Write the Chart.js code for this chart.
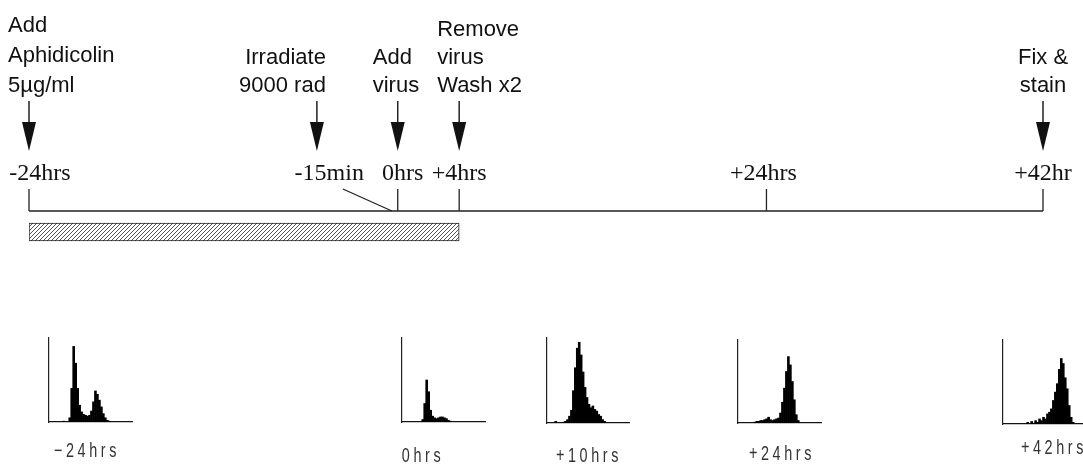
<!DOCTYPE html>
<html><head><meta charset="utf-8">
<script src="https://cdn.jsdelivr.net/npm/chart.js@4.4.1/dist/chart.umd.min.js"></script>
<style>
html,body{margin:0;padding:0;background:#fff;overflow:hidden;width:1083px;height:464px;}
#wrap{position:relative;width:1083px;height:464px;overflow:hidden;background:#fff;}
canvas{position:absolute;}
.hl{position:absolute;font-family:"Liberation Sans",Arial,sans-serif;font-size:20px;letter-spacing:5px;color:#333;white-space:nowrap;transform:translate(-50%,-50%) scaleX(0.72);}
</style></head><body><div id="wrap"><canvas id="main" width="1083" height="464" style="left:0;top:0"></canvas></div>
<script>
// ---------------- data ----------------
const timepoints = [-24, 0, 4, 24, 42];
const timeLabels = ['-24hrs', '0hrs', '+4hrs', '+24hrs', '+42hr'];
const irradiationTime = -0.25;
const irradiationLabel = '-15min';
const eventTimes = [-24, -0.25, 0, 4, 42];
const eventLabels = [
  ['Add', 'Aphidicolin', '5µg/ml'],
  ['Irradiate', '9000 rad'],
  ['Add', 'virus'],
  ['Remove', 'virus', 'Wash x2'],
  ['Fix &', 'stain']
];
const aphidicolinPeriod = [-24, 4];

const histChannels = [0,1,2,3,4,5,6,7,8,9,10,11,12,13,14,15,16,17,18,19,20,21,22,23,24,25,26,27,28,29,30,31,32,33,34,35,36,37,38,39,40,41];
const histLabels = ['\u221224hrs', '0hrs', '+10hrs', '+24hrs', '+42hrs'];
const hist_m24 = [0,0,0,0,0,0,0,1,0,0,5,40,90,70,40,20,12,9,8,7,8,13,24,37,33,26,18,10,5,2,1,0,0,0,0,0,0,0,0,0,0,0];
const hist_0   = [0,0,0,0,0,0,0,0,0,0,3,22,50,36,14,7,5,4,5,6,6,5,4,2,1,0,0,0,0,0,0,0,0,0,0,0,0,0,0,0,0,0];
const hist_10  = [0,0,0,0,2,0,0,0,1,2,4,8,15,38,65,88,95,80,60,42,30,22,18,20,16,14,10,8,4,2,0,0,0,0,0,0,0,0,0,0,0,0];
const hist_24  = [0,0,0,0,0,0,0,0,1,2,2,3,3,4,5,7,4,3,4,5,6,12,25,42,62,80,70,50,28,10,3,0,0,0,0,0,0,0,0,0,0,0];
const hist_42  = [0,0,0,0,0,0,0,0,0,0,0,0,2,0,3,1,4,2,6,4,8,6,12,14,18,28,38,48,65,78,72,55,42,22,8,2,0,0,0,0,0,0];

// ---------------- layout / style ----------------
const LINE_Y = 211, TICK_TOP = 189, TIME_BASE = 180;
const ARROW_TOP = 101, HEAD_TOP = 122, HEAD_TIP = 151, HEAD_HALF = 7;
const LAST_BASE = 92;
const timeLabelDx = [11, 5, 0, -3, 0];
const eventStyle = [
  {arrowDx: 0,   align: 'left',   textDx: -21, lh: 30},
  {arrowDx: -77, align: 'right',  textDx: 9,   lh: 28},
  {arrowDx: 0,   align: 'left',   textDx: -25, lh: 28},
  {arrowDx: 0,   align: 'left',   textDx: -22, lh: 28},
  {arrowDx: 0,   align: 'center', textDx: 0,   lh: 28}
];
const histBoxes = [
  {left: 49,   top: 338, right: 132,  bottom: 422, lx: 87,   ly: 450},
  {left: 402,  top: 338, right: 485,  bottom: 422, lx: 423,  ly: 455},
  {left: 547,  top: 338, right: 629,  bottom: 423, lx: 589,  ly: 455},
  {left: 738,  top: 340, right: 821,  bottom: 423, lx: 782,  ly: 453},
  {left: 1003, top: 340, right: 1086, bottom: 424, lx: 1054, ly: 447}
];

function hatchPattern() {
  const c = document.createElement('canvas');
  c.width = 4; c.height = 4;
  const g = c.getContext('2d');
  g.fillStyle = '#fff'; g.fillRect(0, 0, 4, 4);
  g.strokeStyle = '#555'; g.lineWidth = 1;
  g.beginPath();
  g.moveTo(0, 4); g.lineTo(4, 0);
  g.moveTo(-1, 1); g.lineTo(1, -1);
  g.moveTo(3, 5); g.lineTo(5, 3);
  g.stroke();
  return g.createPattern(c, 'repeat');
}

const timelinePlugin = {
  id: 'timeline',
  afterDatasetsDraw(chart) {
    const ctx = chart.ctx, xs = chart.scales.x;
    const px = v => xs.getPixelForValue(v);
    ctx.save();
    ctx.strokeStyle = '#222'; ctx.lineWidth = 1.3;
    ctx.beginPath();
    ctx.moveTo(px(timepoints[0]), LINE_Y);
    ctx.lineTo(px(timepoints[timepoints.length - 1]), LINE_Y);
    ctx.stroke();
    timepoints.forEach(t => {
      ctx.beginPath(); ctx.moveTo(px(t), TICK_TOP); ctx.lineTo(px(t), LINE_Y); ctx.stroke();
    });
    // leader line from -15min label to the time line
    const pi = px(irradiationTime);
    ctx.beginPath(); ctx.moveTo(pi - 51, TICK_TOP); ctx.lineTo(pi - 2, LINE_Y); ctx.stroke();

    ctx.fillStyle = '#111';
    ctx.font = '24px "Liberation Serif", "Times New Roman", serif';
    ctx.textBaseline = 'alphabetic';
    ctx.textAlign = 'center';
    timepoints.forEach((t, i) => ctx.fillText(timeLabels[i], px(t) + timeLabelDx[i], TIME_BASE));
    ctx.textAlign = 'right';
    ctx.fillText(irradiationLabel, pi - 30, TIME_BASE);

    ctx.font = '22px "Liberation Sans", Arial, sans-serif';
    eventTimes.forEach((t, i) => {
      const st = eventStyle[i];
      const ax = px(t) + st.arrowDx;
      ctx.lineWidth = 1.5;
      ctx.beginPath(); ctx.moveTo(ax, ARROW_TOP); ctx.lineTo(ax, HEAD_TOP + 2); ctx.stroke();
      ctx.beginPath();
      ctx.moveTo(ax - HEAD_HALF, HEAD_TOP); ctx.lineTo(ax + HEAD_HALF, HEAD_TOP); ctx.lineTo(ax, HEAD_TIP);
      ctx.closePath(); ctx.fill();
      const lines = eventLabels[i];
      ctx.textAlign = st.align;
      lines.forEach((s, j) => {
        ctx.fillText(s, ax + st.textDx, LAST_BASE - (lines.length - 1 - j) * st.lh);
      });
    });
    ctx.restore();
  }
};

new Chart(document.getElementById('main'), {
  type: 'bar',
  data: {
    labels: ['Aphidicolin'],
    datasets: [{
      data: [aphidicolinPeriod],
      backgroundColor: hatchPattern(),
      borderColor: '#222',
      borderWidth: 1,
      borderSkipped: false,
      barThickness: 18
    }]
  },
  options: {
    indexAxis: 'y',
    responsive: false,
    animation: false,
    devicePixelRatio: 1,
    layout: {padding: {left: 29, right: 40, top: 0, bottom: 0}},
    plugins: {legend: {display: false}, tooltip: {enabled: false}},
    scales: {
      x: {type: 'linear', min: timepoints[0], max: timepoints[timepoints.length - 1], display: false},
      y: {display: false}
    }
  },
  plugins: [timelinePlugin]
});

const wrap = document.getElementById('wrap');
const histSeries = [hist_m24, hist_0, hist_10, hist_24, hist_42];
histSeries.forEach((vals, i) => {
  const b = histBoxes[i], pad = 2;
  const c = document.createElement('canvas');
  c.width = b.right - b.left + 2 * pad;
  c.height = b.bottom - b.top + 2 * pad;
  c.style.left = (b.left - pad) + 'px';
  c.style.top = (b.top - pad) + 'px';
  wrap.appendChild(c);
  new Chart(c, {
    type: 'bar',
    data: {labels: histChannels, datasets: [{data: vals, backgroundColor: '#000', borderWidth: 0, barPercentage: 1, categoryPercentage: 1}]},
    options: {
      responsive: false, animation: false, devicePixelRatio: 1,
      layout: {padding: pad},
      plugins: {legend: {display: false}, tooltip: {enabled: false}},
      scales: {
        x: {grid: {display: false, drawTicks: false}, ticks: {display: false}, border: {display: true, color: '#222', width: 1.2}},
        y: {min: 0, max: 100, grid: {display: false, drawTicks: false}, ticks: {display: false}, border: {display: true, color: '#222', width: 1.2}}
      }
    }
  });
  const d = document.createElement('div');
  d.className = 'hl';
  d.textContent = histLabels[i];
  d.style.left = b.lx + 'px';
  d.style.top = b.ly + 'px';
  wrap.appendChild(d);
});
</script>
</body></html>
